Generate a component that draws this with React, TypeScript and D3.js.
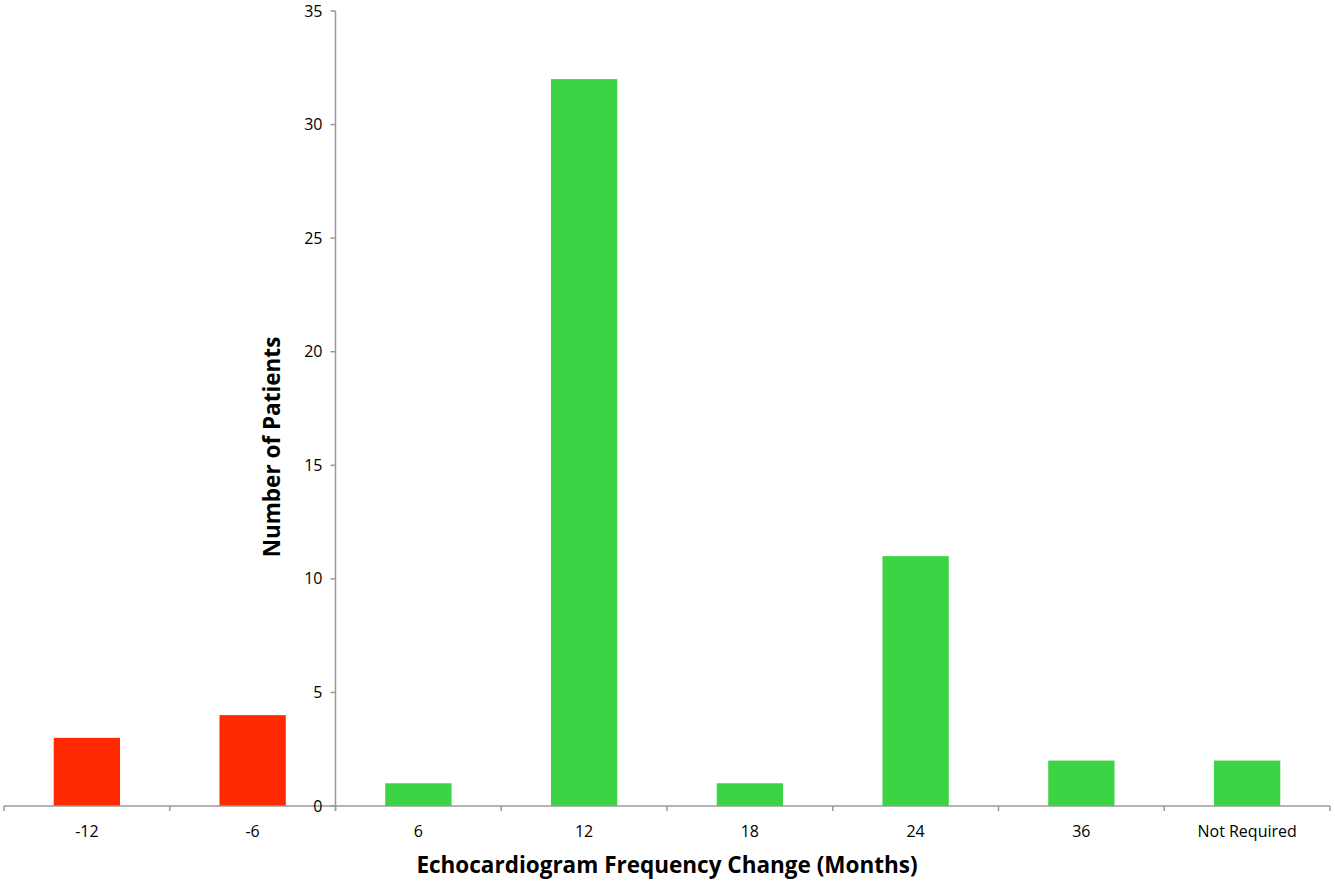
import React from "react";
import * as d3 from "d3";

const categories = ["-12", "-6", "6", "12", "18", "24", "36", "Not Required"];
const patients = [3, 4, 1, 32, 1, 11, 2, 2];
const yTicks = [0, 5, 10, 15, 20, 25, 30, 35];
const xTitle = "Echocardiogram Frequency Change (Months)";
const yTitle = "Number of Patients";

export default function App() {
  const W = 1335, H = 886;
  const left = 4, right = 1330, top = 11, bottom = 806;
  const x = d3.scaleBand().domain(categories).range([left, right]).paddingInner(0).paddingOuter(0);
  const y = d3.scaleLinear().domain([0, 35]).range([bottom, top]);
  const bw = x.bandwidth() * 0.4;
  const yAxisX = x("6")!;
  const font = "'Open Sans', 'Liberation Sans', sans-serif";
  const axisColor = "#9a9a9a";
  const boundaries = categories.map((c) => x(c)!).concat([right]);
  return (
    <svg width={W} height={H} style={{ position: "absolute", left: 0, top: 0, background: "#fff" }}>
      {categories.map((c, i) => (
        <rect
          key={c}
          x={x(c)! + (x.bandwidth() - bw) / 2}
          y={y(patients[i])}
          width={bw}
          height={bottom - y(patients[i])}
          fill={i < 2 ? "#ff2a00" : "#3cd344"}
        />
      ))}
      <line x1={left} x2={right} y1={bottom} y2={bottom} stroke={axisColor} strokeWidth={1.5} />
      {boundaries.map((b, i) => (
        <line key={i} x1={b} x2={b} y1={bottom} y2={bottom + 5} stroke={axisColor} strokeWidth={1.5} />
      ))}
      <line x1={yAxisX} x2={yAxisX} y1={top} y2={bottom + 5} stroke={axisColor} strokeWidth={1.5} />
      {yTicks.map((t) => (
        <g key={t}>
          <line x1={yAxisX - 5} x2={yAxisX} y1={y(t)} y2={y(t)} stroke={axisColor} strokeWidth={1.5} />
          <text x={yAxisX - 13} y={y(t)} dy="0.35em" textAnchor="end" fontFamily={font} fontSize={16} fill="#000">
            {t}
          </text>
        </g>
      ))}
      {categories.map((c) => (
        <text key={c} x={x(c)! + x.bandwidth() / 2} y={bottom + 31} textAnchor="middle" fontFamily={font} fontSize={16} fill="#000">
          {c}
        </text>
      ))}
      <text x={(left + right) / 2} y={873} textAnchor="middle" fontFamily={font} fontSize={22.5} fontWeight="bold" fill="#000">
        {xTitle}
      </text>
      <text
        transform={`translate(280, 447) rotate(-90)`}
        textAnchor="middle"
        fontFamily={font}
        fontSize={22.5}
        fontWeight="bold"
        fill="#000"
      >
        {yTitle}
      </text>
    </svg>
  );
}
